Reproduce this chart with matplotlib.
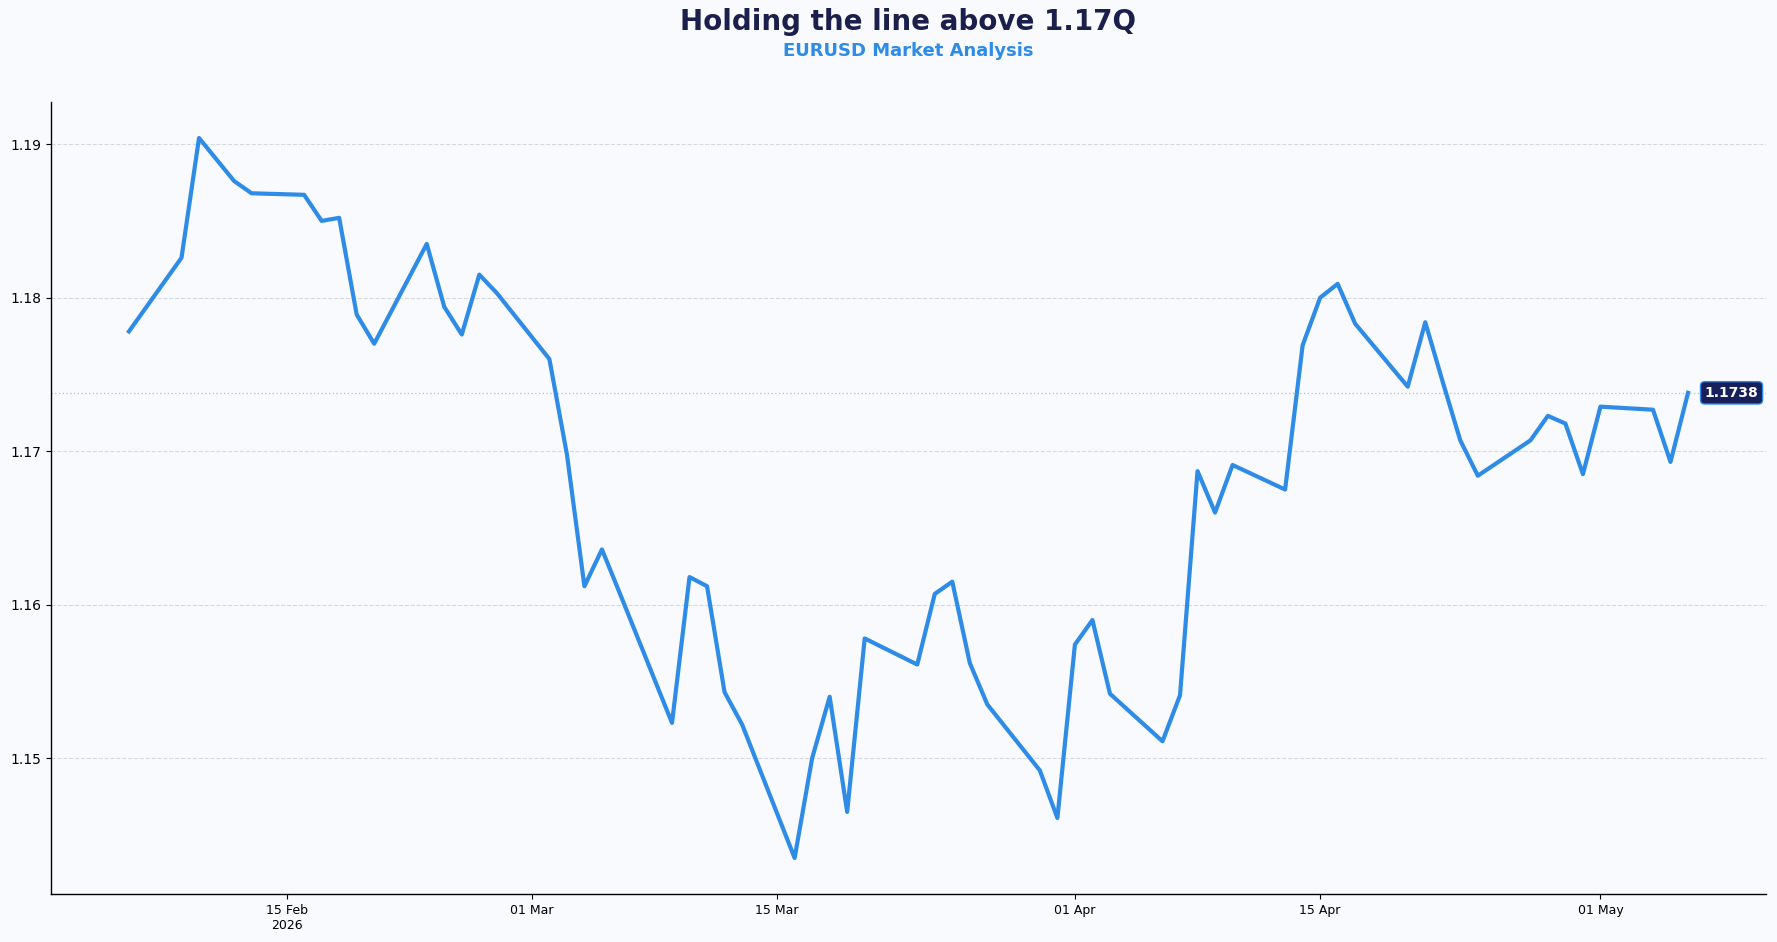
import matplotlib
matplotlib.use("Agg")
import matplotlib.pyplot as plt
import matplotlib.dates as mdates
from matplotlib.ticker import FuncFormatter
import pandas as pd

# ---- data ----
start_date = "2026-02-06"
end_date = "2026-05-06"
dates = pd.bdate_range(start_date, end_date)
eurusd = [
    1.1778, 1.1826, 1.1904, 1.1890, 1.1876, 1.1868,
    1.1867, 1.1850, 1.1852, 1.1789, 1.1770,
    1.1835, 1.1794, 1.1776, 1.1815, 1.1803,
    1.1760, 1.1698, 1.1612, 1.1636, 1.1608,
    1.1523, 1.1618, 1.1612, 1.1543, 1.1522,
    1.1435, 1.1500, 1.1540, 1.1465, 1.1578,
    1.1561, 1.1607, 1.1615, 1.1562, 1.1535,
    1.1492, 1.1461, 1.1574, 1.1590, 1.1542,
    1.1511, 1.1541, 1.1687, 1.1660, 1.1691,
    1.1675, 1.1769, 1.1800, 1.1809, 1.1783,
    1.1742, 1.1784, 1.1745, 1.1707, 1.1684,
    1.1707, 1.1723, 1.1718, 1.1685, 1.1729,
    1.1727, 1.1693, 1.1738,
]
title = "Holding the line above 1.17Q"
subtitle = "EURUSD Market Analysis"

# ---- styling ----
bg = "#F8FAFD"
line_color = "#2E8BE6"
navy = "#1B1F4B"

fig = plt.figure(figsize=(17.77, 9.42), dpi=100, facecolor=bg)
ax_left, ax_width = 0.0287, 0.9651
ax = fig.add_axes([ax_left, 0.051, ax_width, 0.8407])
ax.set_facecolor(bg)

ax.plot(dates, eurusd, color=line_color, linewidth=3.0, solid_joinstyle="round", zorder=3)

last_val = eurusd[-1]
ax.axhline(last_val, color="#B8BCC6", linestyle=(0, (1, 2)), linewidth=0.9, zorder=1)
ax.annotate(f"{last_val:.4f}", xy=(dates[-1], last_val), xytext=(12, 0),
            textcoords="offset points", ha="left", va="center",
            fontsize=10, fontweight="bold", color="white", zorder=5,
            bbox=dict(boxstyle="round,pad=0.3", fc="#17205A", ec=line_color, lw=1.0))

ax.grid(axis="y", color="#D5D9E0", linestyle="--", linewidth=0.8, zorder=0)
ax.grid(axis="x", visible=False)
for s in ("top", "right"):
    ax.spines[s].set_visible(False)
for s in ("left", "bottom"):
    ax.spines[s].set_color("black")
    ax.spines[s].set_linewidth(1.0)

ax.yaxis.set_major_locator(matplotlib.ticker.MultipleLocator(0.01))
ax.yaxis.set_major_formatter(FuncFormatter(lambda v, p: f"{v:.2f}"))
ax.xaxis.set_major_locator(mdates.DayLocator(bymonthday=[1, 15]))

def fmt_date(x, pos):
    d = mdates.num2date(x)
    s = d.strftime("%d %b")
    if pos == 0:
        s += "\n" + d.strftime("%Y")
    return s

ax.xaxis.set_major_formatter(FuncFormatter(fmt_date))
ax.tick_params(axis="y", labelsize=10, colors="black")
ax.tick_params(axis="x", labelsize=9, colors="black")

cx = ax_left + ax_width / 2
fig.text(cx, 0.977, title, ha="center", va="center", fontsize=20,
         fontweight="bold", color=navy)
fig.text(cx, 0.946, subtitle, ha="center", va="center", fontsize=13,
         fontweight="bold", color=line_color)

fig.savefig("out.png", dpi=100, facecolor=bg)
